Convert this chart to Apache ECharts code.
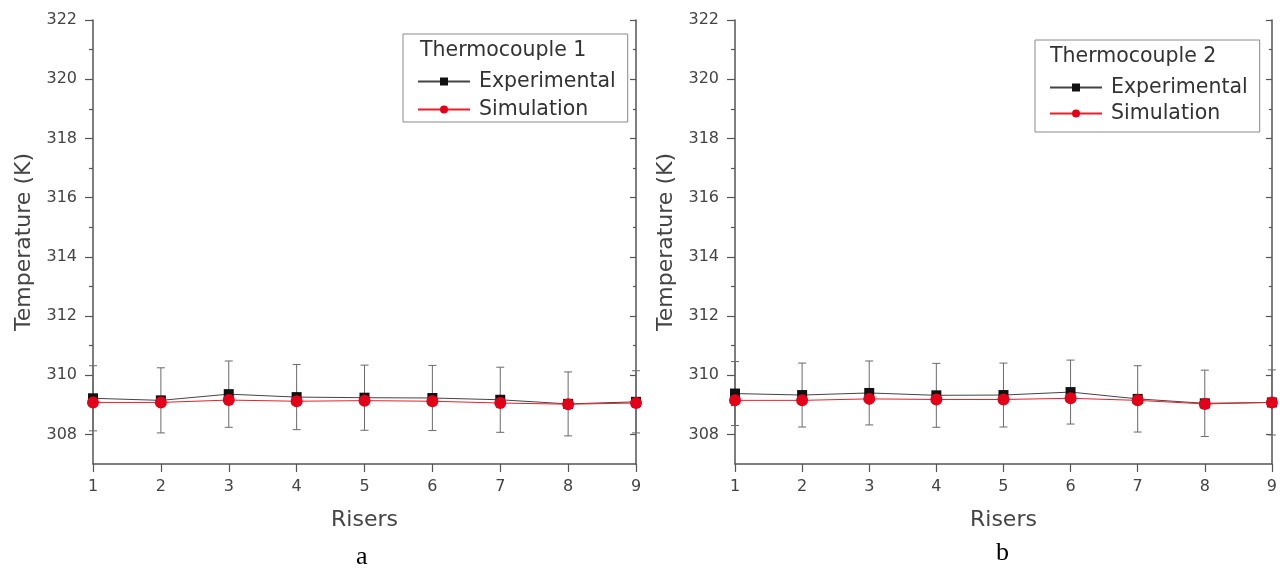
<!DOCTYPE html>
<html><head><meta charset="utf-8">
<script src="https://cdn.jsdelivr.net/npm/echarts@6/dist/echarts.min.js"></script>
<style>html,body{margin:0;padding:0;background:#fff}#c{width:1280px;height:569px}</style>
</head><body><div id="c"></div>
<script>
// ---- data ----
const risers = [1, 2, 3, 4, 5, 6, 7, 8, 9];
const xTickLabels = [1, 2, 3, 4, 5, 6, 7, 8, 9];
const yTickLabels = [308, 310, 312, 314, 316, 318, 320, 322];
const yMinorTicks = [309, 311, 313, 315, 317, 319, 321];
// Thermocouple 1 (a)
const expA = [309.22, 309.15, 309.36, 309.26, 309.24, 309.23, 309.17, 309.03, 309.10];
const simA = [309.08, 309.08, 309.16, 309.12, 309.14, 309.12, 309.06, 309.02, 309.06];
const errA = [1.10, 1.10, 1.12, 1.10, 1.10, 1.10, 1.10, 1.08, 1.05];
// Thermocouple 2 (b)
const expB = [309.38, 309.33, 309.40, 309.32, 309.33, 309.43, 309.20, 309.05, 309.08];
const simB = [309.15, 309.15, 309.20, 309.18, 309.18, 309.22, 309.15, 309.03, 309.08];
const errB = [1.08, 1.08, 1.08, 1.08, 1.08, 1.08, 1.12, 1.12, 1.10];

const FONT = 'DejaVu Sans';
const AX = '#555';
const TXT = '#444';

function errSeries(idx, exp, err) {
  return {
    type: 'custom', xAxisIndex: idx, yAxisIndex: idx * 4, z: 1, silent: true,
    data: risers.map((r, i) => [r, exp[i] - err[i], exp[i] + err[i]]),
    encode: { x: 0, y: [1, 2] },
    renderItem(params, api) {
      const lo = api.coord([api.value(0), api.value(1)]);
      const hi = api.coord([api.value(0), api.value(2)]);
      const w = 4;
      const style = { stroke: '#6a6a6a', lineWidth: 1 };
      return { type: 'group', children: [
        { type: 'line', shape: { x1: lo[0], y1: lo[1], x2: hi[0], y2: hi[1] }, style },
        { type: 'line', shape: { x1: lo[0] - w, y1: lo[1], x2: lo[0] + w, y2: lo[1] }, style },
        { type: 'line', shape: { x1: hi[0] - w, y1: hi[1], x2: hi[0] + w, y2: hi[1] }, style }
      ]};
    }
  };
}
function lineSeries(idx, name, vals) {
  const exp = name === 'Experimental';
  return {
    type: 'line', name, xAxisIndex: idx, yAxisIndex: idx * 4, z: exp ? 2 : 3,
    data: risers.map((r, i) => [r, vals[i]]),
    symbol: exp ? 'rect' : 'circle', symbolSize: exp ? 10 : 12,
    itemStyle: { color: exp ? '#111' : '#e5001a' },
    lineStyle: { color: exp ? '#444' : '#e8202a', width: 1 },
    animation: false
  };
}
function xAx(idx) {
  return {
    type: 'value', gridIndex: idx, min: 1, max: 9, interval: 1,
    axisLine: { lineStyle: { color: AX, width: 1.5 } },
    axisTick: { length: 8, lineStyle: { color: AX, width: 1.2 } },
    axisLabel: { margin: 15, fontSize: 16, color: TXT, fontFamily: FONT,
      customValues: xTickLabels },
    splitLine: { show: false },
    name: 'Risers', nameLocation: 'middle', nameGap: 45,
    nameTextStyle: { fontSize: 22, color: TXT, fontFamily: FONT }
  };
}
function yAxes(idx) {
  const base = { type: 'value', gridIndex: idx, min: 307, max: 322, splitLine: { show: false } };
  return [
    Object.assign({}, base, {
      position: 'left',
      axisLine: { show: true, lineStyle: { color: AX, width: 1.5 } },
      axisTick: { show: true, length: 8, customValues: yTickLabels, lineStyle: { color: AX, width: 1.2 } },
      axisLabel: { margin: 16, fontSize: 16, color: TXT, fontFamily: FONT, customValues: yTickLabels },
      name: 'Temperature (K)', nameLocation: 'middle', nameGap: 58,
      nameTextStyle: { fontSize: 22, color: TXT, fontFamily: FONT }
    }),
    Object.assign({}, base, {
      position: 'left', axisLine: { show: false },
      axisTick: { show: true, length: 4, customValues: yMinorTicks, lineStyle: { color: AX, width: 1.2 } },
      axisLabel: { show: false }
    }),
    Object.assign({}, base, {
      position: 'right',
      axisLine: { show: true, lineStyle: { color: AX, width: 1.5 } },
      axisTick: { show: true, inside: true, length: 6, customValues: yTickLabels, lineStyle: { color: AX, width: 1.2 } },
      axisLabel: { show: false }
    }),
    Object.assign({}, base, {
      position: 'right', axisLine: { show: false },
      axisTick: { show: true, inside: true, length: 3, customValues: yMinorTicks, lineStyle: { color: AX, width: 1.2 } },
      axisLabel: { show: false }
    })
  ];
}
function legend(left, top, padding, gap) {
  return {
    left, top, orient: 'vertical', padding,
    borderColor: '#8a8a8a', borderWidth: 1, itemGap: gap,
    itemWidth: 52, itemHeight: 10,
    data: ['Experimental', 'Simulation'],
    textStyle: { fontSize: 20.5, color: '#333', fontFamily: FONT, padding: [0, 0, 0, 4] }
  };
}

const chart = echarts.init(document.getElementById('c'), null, { renderer: 'canvas' });
chart.setOption({
  animation: false,
  backgroundColor: '#fff',
  grid: [
    { left: 93, top: 20, width: 543, height: 444 },
    { left: 735, top: 20, width: 537, height: 444 }
  ],
  xAxis: [xAx(0), xAx(1)],
  yAxis: yAxes(0).concat(yAxes(1)),
  legend: [legend(403, 34, [37, 12, 2, 14], 7), legend(1035, 40, [37, 12, 8, 14], 5)],
  title: [
    { text: 'Thermocouple 1', left: 420, top: 40, padding: 0,
      textStyle: { fontSize: 20.5, fontWeight: 'normal', color: '#333', fontFamily: FONT } },
    { text: 'Thermocouple 2', left: 1050, top: 46, padding: 0,
      textStyle: { fontSize: 20.5, fontWeight: 'normal', color: '#333', fontFamily: FONT } },
    { text: 'a', left: 356, top: 544, padding: 0,
      textStyle: { fontSize: 26, fontWeight: 'normal', color: '#000', fontFamily: 'Liberation Serif' } },
    { text: 'b', left: 996, top: 540, padding: 0,
      textStyle: { fontSize: 26, fontWeight: 'normal', color: '#000', fontFamily: 'Liberation Serif' } }
  ],
  series: [
    errSeries(0, expA, errA), lineSeries(0, 'Experimental', expA), lineSeries(0, 'Simulation', simA),
    errSeries(1, expB, errB), lineSeries(1, 'Experimental', expB), lineSeries(1, 'Simulation', simB)
  ]
});
</script></body></html>
